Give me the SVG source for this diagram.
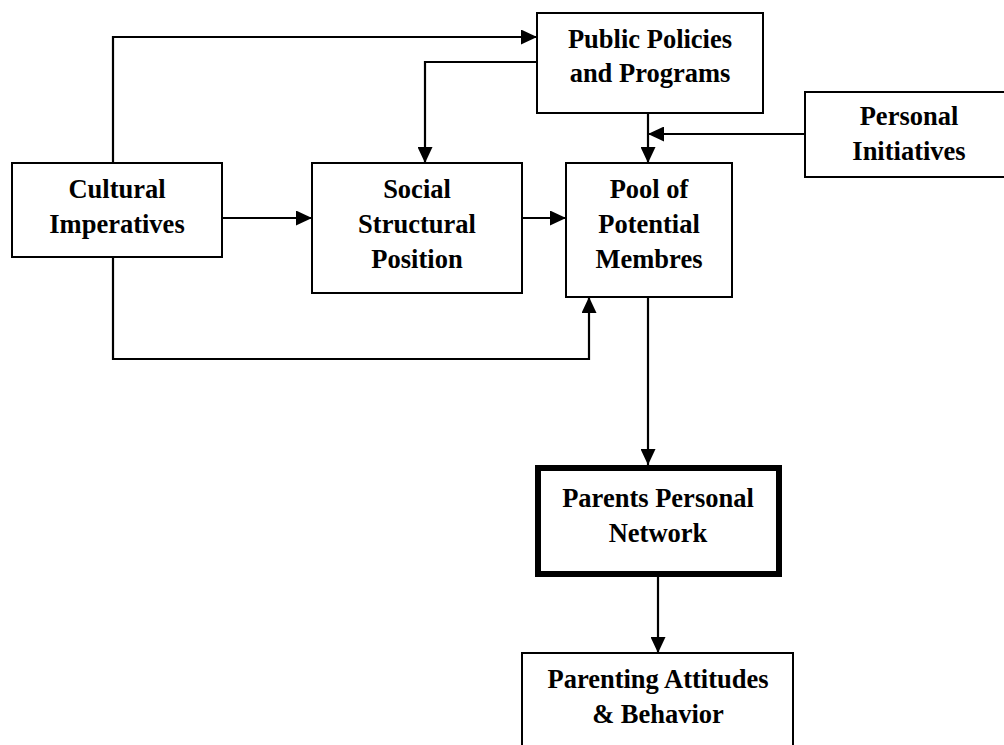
<svg xmlns="http://www.w3.org/2000/svg" width="1004" height="745" viewBox="0 0 1004 745">
  <style>
    .box { fill: #ffffff; stroke: #000000; stroke-width: 2; }
    .thick { fill: #ffffff; stroke: #000000; stroke-width: 6; }
    .lbl { font-family: "Liberation Serif", "Times New Roman", serif; font-weight: bold; font-size: 26.5px; fill: #000000; text-anchor: middle; }
    .wire { fill: none; stroke: #000000; stroke-width: 2.2; }
  </style>
  <defs>
    <marker id="head" markerUnits="userSpaceOnUse" markerWidth="17" markerHeight="15" refX="16" refY="7.5" orient="auto">
      <path d="M0,0 L16,7.5 L0,15 z" fill="#000000"/>
    </marker>
  </defs>
  <rect width="1004" height="745" fill="#ffffff"/>

  <g id="connectors">
    <!-- Cultural Imperatives up and over to Public Policies -->
    <path class="wire" d="M113,163 L113,37 L537,37" marker-end="url(#head)"/>
    <!-- Public Policies down to Social Structural Position -->
    <path class="wire" d="M537,62 L425,62 L425,163" marker-end="url(#head)"/>
    <!-- Public Policies down to Pool -->
    <path class="wire" d="M648,113 L648,163" marker-end="url(#head)"/>
    <!-- Personal Initiatives joins the Public Policies line -->
    <path class="wire" d="M805,134 L648,134" marker-end="url(#head)"/>
    <!-- Cultural Imperatives to Social Structural Position -->
    <path class="wire" d="M222,218 L312,218" marker-end="url(#head)"/>
    <!-- Social Structural Position to Pool -->
    <path class="wire" d="M522,218 L566,218" marker-end="url(#head)"/>
    <!-- Cultural Imperatives under and round to Pool -->
    <path class="wire" d="M113,257 L113,359 L589,359 L589,297" marker-end="url(#head)"/>
    <!-- Pool to Parents Personal Network -->
    <path class="wire" d="M648,297 L648,465" marker-end="url(#head)"/>
    <!-- Parents Personal Network to Parenting Attitudes -->
    <path class="wire" d="M658,577 L658,653" marker-end="url(#head)"/>
  </g>

  <g id="public-policies">
    <rect class="box" x="537" y="13" width="226" height="100"/>
    <text class="lbl" x="650" y="48">Public Policies</text>
    <text class="lbl" x="650" y="82">and Programs</text>
  </g>

  <g id="personal-initiatives">
    <rect class="box" x="805" y="92" width="215" height="85"/>
    <text class="lbl" x="909" y="125">Personal</text>
    <text class="lbl" x="909" y="160">Initiatives</text>
  </g>

  <g id="cultural-imperatives">
    <rect class="box" x="12" y="163" width="210" height="94"/>
    <text class="lbl" x="117" y="198">Cultural</text>
    <text class="lbl" x="117" y="233">Imperatives</text>
  </g>

  <g id="social-structural-position">
    <rect class="box" x="312" y="163" width="210" height="130"/>
    <text class="lbl" x="417" y="198">Social</text>
    <text class="lbl" x="417" y="233">Structural</text>
    <text class="lbl" x="417" y="268">Position</text>
  </g>

  <g id="pool-of-potential-membres">
    <rect class="box" x="566" y="163" width="166" height="134"/>
    <text class="lbl" x="649" y="198">Pool of</text>
    <text class="lbl" x="649" y="233">Potential</text>
    <text class="lbl" x="649" y="268">Membres</text>
  </g>

  <g id="parents-personal-network">
    <rect class="thick" x="538" y="468" width="241" height="106"/>
    <text class="lbl" x="658" y="507">Parents Personal</text>
    <text class="lbl" x="658" y="542">Network</text>
  </g>

  <g id="parenting-attitudes">
    <rect class="box" x="522" y="653" width="271" height="110"/>
    <text class="lbl" x="658" y="688">Parenting Attitudes</text>
    <text class="lbl" x="658" y="723">&amp; Behavior</text>
  </g>
</svg>
